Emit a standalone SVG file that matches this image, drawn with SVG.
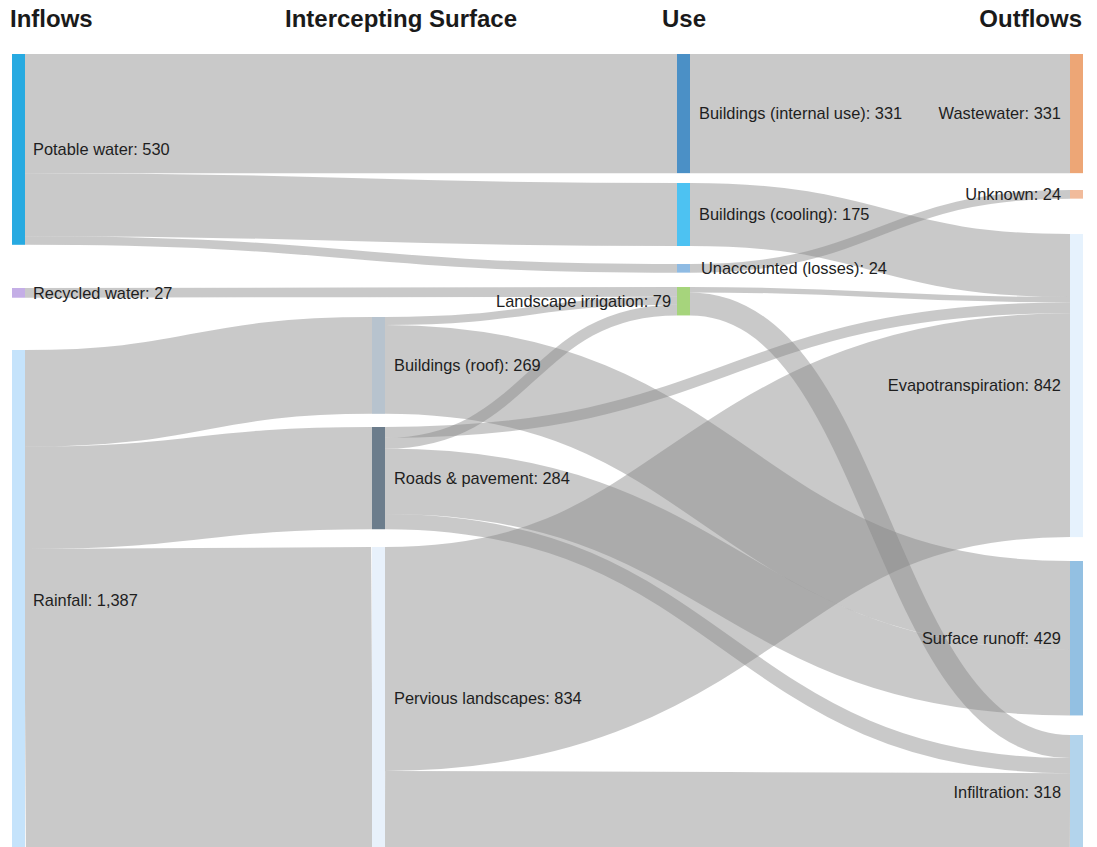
<svg xmlns="http://www.w3.org/2000/svg" width="1097" height="847" viewBox="0 0 1097 847">
<style>
.bg{fill:#ffffff}
.hdr{font-family:"Liberation Sans",Arial,sans-serif;font-weight:bold;font-size:24px;fill:#1a1a1a}
.lbl{font-family:"Liberation Sans",Arial,sans-serif;font-size:16.4px;fill:#1e1e1e}
.lnk{fill:none;stroke:#888888;stroke-opacity:0.45}
</style>
<rect class="bg" x="0" y="0" width="1097" height="847"/>
<g id="headers">
<text class="hdr" x="10" y="27">Inflows</text>
<text class="hdr" x="401" y="27" text-anchor="middle">Intercepting Surface</text>
<text class="hdr" x="684" y="27" text-anchor="middle">Use</text>
<text class="hdr" x="1082" y="27" text-anchor="end">Outflows</text>
</g>
<g id="connectors">
<path class="lnk" stroke-width="119.16" d="M25,113.58 C351,113.58 351,113.58 677,113.58"/>
<path class="lnk" stroke-width="63" d="M25,204.66 C351,204.66 351,214.5 677,214.5"/>
<path class="lnk" stroke-width="8.64" d="M25,240.48 C351,240.48 351,268.32 677,268.32"/>
<path class="lnk" stroke-width="9.72" d="M25,292.86 C351,292.86 351,291.86 677,291.86"/>
<path class="lnk" stroke-width="96.84" d="M25,398.42 C198.5,398.42 198.5,365.42 372,365.42"/>
<path class="lnk" stroke-width="102.24" d="M25,497.96 C198.5,497.96 198.5,478.12 372,478.12"/>
<path class="lnk" stroke-width="300.24" d="M25,699.2 C198.5,699.2 198.5,697.12 372,697.12"/>
<path class="lnk" stroke-width="7.92" d="M385,320.96 C531,320.96 531,300.68 677,300.68"/>
<path class="lnk" stroke-width="88.92" d="M385,369.38 C727.5,369.38 727.5,605.46 1070,605.46"/>
<path class="lnk" stroke-width="10.8" d="M385,432.4 C727.5,432.4 727.5,307.8 1070,307.8"/>
<path class="lnk" stroke-width="10.8" d="M385,443.2 C531,443.2 531,310.04 677,310.04"/>
<path class="lnk" stroke-width="65.52" d="M385,481.36 C727.5,481.36 727.5,682.68 1070,682.68"/>
<path class="lnk" stroke-width="15.12" d="M385,521.68 C727.5,521.68 727.5,765.6 1070,765.6"/>
<path class="lnk" stroke-width="223.92" d="M385,658.96 C727.5,658.96 727.5,425.16 1070,425.16"/>
<path class="lnk" stroke-width="76.32" d="M385,809.08 C727.5,809.08 727.5,811.32 1070,811.32"/>
<path class="lnk" stroke-width="119.16" d="M690,113.58 C880,113.58 880,113.58 1070,113.58"/>
<path class="lnk" stroke-width="63" d="M690,214.5 C880,214.5 880,265.5 1070,265.5"/>
<path class="lnk" stroke-width="8.64" d="M690,268.32 C880,268.32 880,194.32 1070,194.32"/>
<path class="lnk" stroke-width="5.4" d="M690,289.7 C880,289.7 880,299.7 1070,299.7"/>
<path class="lnk" stroke-width="23.04" d="M690,303.92 C880,303.92 880,746.52 1070,746.52"/>
</g>
<g id="node-potable"><rect x="12" y="54" width="13" height="190.8" fill="#27aae1"/><text class="lbl" x="33" y="149.4" dy="0.35em">Potable water: 530</text></g>
<g id="node-recycled"><rect x="12" y="288" width="13" height="9.72" fill="#c4aee6"/><text class="lbl" x="33" y="292.9" dy="0.35em">Recycled water: 27</text></g>
<g id="node-rainfall"><rect x="12" y="350" width="13" height="499.32" fill="#c5e3fb"/><text class="lbl" x="33" y="600" dy="0.35em">Rainfall: 1,387</text></g>
<g id="node-roof"><rect x="372" y="317" width="13" height="96.84" fill="#b7c3ce"/><text class="lbl" x="394" y="365.4" dy="0.35em">Buildings (roof): 269</text></g>
<g id="node-roads"><rect x="372" y="427" width="13" height="102.24" fill="#6c7d8c"/><text class="lbl" x="394" y="478.1" dy="0.35em">Roads &amp; pavement: 284</text></g>
<g id="node-pervious"><rect x="372" y="547" width="13" height="300.24" fill="#e8f1fb"/><text class="lbl" x="394" y="698" dy="0.35em">Pervious landscapes: 834</text></g>
<g id="node-internal"><rect x="677" y="54" width="13" height="119.16" fill="#4b90c6"/><text class="lbl" x="699" y="113.6" dy="0.35em">Buildings (internal use): 331</text></g>
<g id="node-cooling"><rect x="677" y="183" width="13" height="63" fill="#4dc2f2"/><text class="lbl" x="699" y="214.5" dy="0.35em">Buildings (cooling): 175</text></g>
<g id="node-unaccounted"><rect x="677" y="264" width="13" height="8.64" fill="#8fbbe3"/><text class="lbl" x="701" y="268.3" dy="0.35em">Unaccounted (losses): 24</text></g>
<g id="node-irrigation"><rect x="677" y="287" width="13" height="28.44" fill="#a6d47c"/><text class="lbl" x="671" y="301" dy="0.35em" text-anchor="end">Landscape irrigation: 79</text></g>
<g id="node-wastewater"><rect x="1070" y="54" width="13" height="119.16" fill="#eda676"/><text class="lbl" x="1061" y="113.6" dy="0.35em" text-anchor="end">Wastewater: 331</text></g>
<g id="node-unknown"><rect x="1070" y="190" width="13" height="8.64" fill="#f1bb9b"/><text class="lbl" x="1061" y="194.3" dy="0.35em" text-anchor="end">Unknown: 24</text></g>
<g id="node-et"><rect x="1070" y="234" width="13" height="303.12" fill="#e6f2fd"/><text class="lbl" x="1061" y="385.5" dy="0.35em" text-anchor="end">Evapotranspiration: 842</text></g>
<g id="node-runoff"><rect x="1070" y="561" width="13" height="154.44" fill="#93c0e2"/><text class="lbl" x="1061" y="638.2" dy="0.35em" text-anchor="end">Surface runoff: 429</text></g>
<g id="node-infiltration"><rect x="1070" y="735" width="13" height="114.48" fill="#b3d4ec"/><text class="lbl" x="1061" y="792.2" dy="0.35em" text-anchor="end">Infiltration: 318</text></g>
</svg>
